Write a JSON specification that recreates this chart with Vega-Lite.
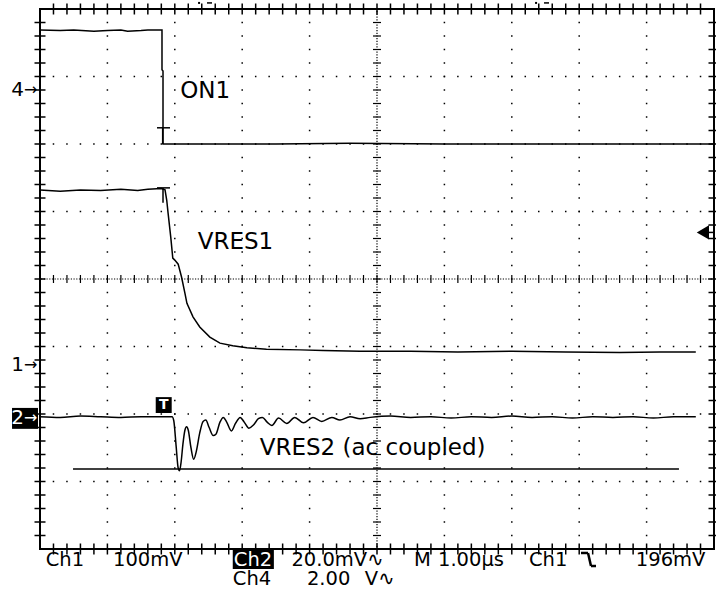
{
  "$schema": "https://vega.github.io/schema/vega-lite/v6.json",
  "width": 674,
  "height": 540,
  "autosize": {"type": "none"},
  "padding": {"left": 40, "top": 9, "right": 2, "bottom": 43},
  "background": "white",
  "config": {"view": {"stroke": "black", "strokeWidth": 2}, "text": {"font": "DejaVu Sans"}, "axis": {"disable": true}},
  "datasets": {
    "traces": [
      {"s": "ON1", "x": 0, "y": 7.69}, {"s": "ON1", "x": 0.3, "y": 7.68}, {"s": "ON1", "x": 0.5, "y": 7.69}, {"s": "ON1", "x": 0.8, "y": 7.67}, {"s": "ON1", "x": 1.0, "y": 7.68}, {"s": "ON1", "x": 1.2, "y": 7.69}, {"s": "ON1", "x": 1.3, "y": 7.67}, {"s": "ON1", "x": 1.5, "y": 7.68}, {"s": "ON1", "x": 1.6, "y": 7.69}, {"s": "ON1", "x": 1.81, "y": 7.69}, {"s": "ON1", "x": 1.81, "y": 7.1}, {"s": "ON1", "x": 1.825, "y": 7.08}, {"s": "ON1", "x": 1.825, "y": 6.0}, {"s": "ON1", "x": 1.87, "y": 6.0}, {"s": "ON1", "x": 2.4, "y": 6.0}, {"s": "ON1", "x": 3.5, "y": 6.0}, {"s": "ON1", "x": 4.6, "y": 6.01}, {"s": "ON1", "x": 6.0, "y": 6.0}, {"s": "ON1", "x": 7.5, "y": 6.0}, {"s": "ON1", "x": 10, "y": 6.0},
      {"s": "VRES1", "x": 0, "y": 5.32}, {"s": "VRES1", "x": 0.3, "y": 5.3}, {"s": "VRES1", "x": 0.6, "y": 5.32}, {"s": "VRES1", "x": 0.9, "y": 5.31}, {"s": "VRES1", "x": 1.2, "y": 5.33}, {"s": "VRES1", "x": 1.45, "y": 5.31}, {"s": "VRES1", "x": 1.6, "y": 5.33}, {"s": "VRES1", "x": 1.8, "y": 5.34}, {"s": "VRES1", "x": 1.855, "y": 5.32}, {"s": "VRES1", "x": 1.88, "y": 5.17}, {"s": "VRES1", "x": 1.9, "y": 4.98}, {"s": "VRES1", "x": 1.94, "y": 4.62}, {"s": "VRES1", "x": 1.97, "y": 4.31}, {"s": "VRES1", "x": 2.0, "y": 4.28}, {"s": "VRES1", "x": 2.05, "y": 4.22}, {"s": "VRES1", "x": 2.1, "y": 4.03}, {"s": "VRES1", "x": 2.15, "y": 3.79}, {"s": "VRES1", "x": 2.18, "y": 3.64}, {"s": "VRES1", "x": 2.27, "y": 3.44}, {"s": "VRES1", "x": 2.37, "y": 3.29}, {"s": "VRES1", "x": 2.52, "y": 3.14}, {"s": "VRES1", "x": 2.67, "y": 3.05}, {"s": "VRES1", "x": 2.86, "y": 3.01}, {"s": "VRES1", "x": 3.07, "y": 2.98}, {"s": "VRES1", "x": 3.36, "y": 2.96}, {"s": "VRES1", "x": 3.86, "y": 2.95}, {"s": "VRES1", "x": 4.2, "y": 2.94}, {"s": "VRES1", "x": 4.75, "y": 2.93}, {"s": "VRES1", "x": 5.5, "y": 2.93}, {"s": "VRES1", "x": 6.2, "y": 2.92}, {"s": "VRES1", "x": 7.0, "y": 2.93}, {"s": "VRES1", "x": 7.8, "y": 2.92}, {"s": "VRES1", "x": 8.6, "y": 2.91}, {"s": "VRES1", "x": 9.2, "y": 2.92}, {"s": "VRES1", "x": 9.73, "y": 2.92}
    ],
    "ring": [
      {"x": 0, "y": 1.96}, {"x": 0.3, "y": 1.95}, {"x": 0.6, "y": 1.97}, {"x": 0.9, "y": 1.96}, {"x": 1.2, "y": 1.95}, {"x": 1.5, "y": 1.96}, {"x": 1.8, "y": 1.96}, {"x": 1.96, "y": 1.96}, {"x": 1.985, "y": 1.9}, {"x": 2.02, "y": 1.52}, {"x": 2.05, "y": 1.2}, {"x": 2.07, "y": 1.16}, {"x": 2.095, "y": 1.3}, {"x": 2.12, "y": 1.55}, {"x": 2.15, "y": 1.76}, {"x": 2.175, "y": 1.81}, {"x": 2.2, "y": 1.76}, {"x": 2.24, "y": 1.5}, {"x": 2.28, "y": 1.33}, {"x": 2.32, "y": 1.45}, {"x": 2.37, "y": 1.72}, {"x": 2.42, "y": 1.89}, {"x": 2.46, "y": 1.91}, {"x": 2.51, "y": 1.8}, {"x": 2.57, "y": 1.68}, {"x": 2.61, "y": 1.7}, {"x": 2.67, "y": 1.88}, {"x": 2.72, "y": 1.95}, {"x": 2.77, "y": 1.88}, {"x": 2.84, "y": 1.75}, {"x": 2.9, "y": 1.86}, {"x": 2.97, "y": 1.95}, {"x": 3.03, "y": 1.88}, {"x": 3.1, "y": 1.79}, {"x": 3.17, "y": 1.84}, {"x": 3.24, "y": 1.93}, {"x": 3.3, "y": 1.95}, {"x": 3.37, "y": 1.88}, {"x": 3.44, "y": 1.83}, {"x": 3.54, "y": 1.94}, {"x": 3.66, "y": 1.86}, {"x": 3.78, "y": 1.95}, {"x": 3.91, "y": 1.87}, {"x": 4.05, "y": 1.95}, {"x": 4.18, "y": 1.89}, {"x": 4.33, "y": 1.95}, {"x": 4.45, "y": 1.91}, {"x": 4.6, "y": 1.96}, {"x": 4.75, "y": 1.93}, {"x": 4.9, "y": 1.95}, {"x": 5.2, "y": 1.97}, {"x": 5.5, "y": 1.95}, {"x": 5.8, "y": 1.96}, {"x": 6.1, "y": 1.94}, {"x": 6.4, "y": 1.96}, {"x": 6.7, "y": 1.95}, {"x": 7.0, "y": 1.97}, {"x": 7.3, "y": 1.95}, {"x": 7.6, "y": 1.96}, {"x": 7.9, "y": 1.94}, {"x": 8.2, "y": 1.96}, {"x": 8.5, "y": 1.95}, {"x": 8.8, "y": 1.96}, {"x": 9.1, "y": 1.94}, {"x": 9.4, "y": 1.96}, {"x": 9.73, "y": 1.96}
    ],
    "gx": [{"g": 1}, {"g": 2}, {"g": 3}, {"g": 4}, {"g": 6}, {"g": 7}, {"g": 8}, {"g": 9}],
    "gy": [{"g": 1}, {"g": 2}, {"g": 3}, {"g": 5}, {"g": 6}, {"g": 7}],
    "bt": [
      {"p":0.2},{"p":0.4},{"p":0.6},{"p":0.8},{"p":1},{"p":1.2},{"p":1.4},{"p":1.6},{"p":1.8},{"p":2},{"p":2.2},{"p":2.4},{"p":2.6},{"p":2.8},{"p":3},{"p":3.2},{"p":3.4},{"p":3.6},{"p":3.8},{"p":4},{"p":4.2},{"p":4.4},{"p":4.6},{"p":4.8},{"p":5},{"p":5.2},{"p":5.4},{"p":5.6},{"p":5.8},{"p":6},{"p":6.2},{"p":6.4},{"p":6.6},{"p":6.8},{"p":7},{"p":7.2},{"p":7.4},{"p":7.6},{"p":7.8},{"p":8},{"p":8.2},{"p":8.4},{"p":8.6},{"p":8.8},{"p":9},{"p":9.2},{"p":9.4},{"p":9.6},{"p":9.8}
    ],
    "lt": [
      {"p":0.2},{"p":0.4},{"p":0.6},{"p":0.8},{"p":1},{"p":1.2},{"p":1.4},{"p":1.6},{"p":1.8},{"p":2},{"p":2.2},{"p":2.4},{"p":2.6},{"p":2.8},{"p":3},{"p":3.2},{"p":3.4},{"p":3.6},{"p":3.8},{"p":4},{"p":4.2},{"p":4.4},{"p":4.6},{"p":4.8},{"p":5},{"p":5.2},{"p":5.4},{"p":5.6},{"p":5.8},{"p":6},{"p":6.2},{"p":6.4},{"p":6.6},{"p":6.8},{"p":7},{"p":7.2},{"p":7.4},{"p":7.6},{"p":7.8}
    ],
    "rules": [
      {"x": 1.736, "x2": 1.929, "y": 6.24, "y2": 6.24},
      {"x": 1.82, "x2": 1.82, "y": 6.24, "y2": 6.0},
      {"x": 1.736, "x2": 1.929, "y": 5.35, "y2": 5.35},
      {"x": 1.825, "x2": 1.825, "y": 5.35, "y2": 5.13},
      {"x": 0.49, "x2": 9.48, "y": 1.185, "y2": 1.185},
      {"x": 9.88, "x2": 10, "y": 4.69, "y2": 4.69},
      {"x": 2.478, "x2": 2.552, "y": 8.09, "y2": 8.09},
      {"x": 7.478, "x2": 7.552, "y": 8.09, "y2": 8.09}
    ],
    "edge": [
      {"x": 8.027, "x2": 8.131, "y": -0.059, "y2": -0.059},
      {"x": 8.131, "x2": 8.175, "y": -0.059, "y2": -0.252},
      {"x": 8.175, "x2": 8.249, "y": -0.252, "y2": -0.252}
    ],
    "boxes": [
      {"x": 2.86, "x2": 3.47, "y": -0.015, "y2": -0.296},
      {"x": -0.415, "x2": -0.03, "y": 2.09, "y2": 1.78},
      {"x": 1.717, "x2": 1.954, "y": 2.25, "y2": 2.015}
    ]
  },
  "encoding": {
    "x": {"type": "quantitative", "scale": {"domain": [0, 10], "nice": false, "zero": false}, "axis": null},
    "y": {"type": "quantitative", "scale": {"domain": [0, 8], "nice": false, "zero": false}, "axis": null}
  },
  "layer": [
    {"data": {"name": "gx"}, "mark": {"type": "rule", "color": "black", "strokeWidth": 1.5, "strokeDash": [1.5, 12], "strokeDashOffset": 0.75}, "encoding": {"x": {"field": "g", "type": "quantitative"}}},
    {"data": {"name": "gy"}, "mark": {"type": "rule", "color": "black", "strokeWidth": 1.5, "strokeDash": [1.5, 11.98], "strokeDashOffset": 0.75}, "encoding": {"y": {"field": "g", "type": "quantitative"}}},
    {"data": {"values": [{"g": 5}]}, "mark": {"type": "rule", "color": "black", "strokeWidth": 1.2, "strokeDash": [1.2, 1.5], "strokeDashOffset": 0.6}, "encoding": {"x": {"field": "g", "type": "quantitative"}}},
    {"data": {"values": [{"g": 4}]}, "mark": {"type": "rule", "color": "black", "strokeWidth": 1.2, "strokeDash": [1.2, 1.5], "strokeDashOffset": 0.6}, "encoding": {"y": {"field": "g", "type": "quantitative"}}},
    {"data": {"name": "bt"}, "mark": {"type": "tick", "orient": "vertical", "color": "black", "size": 11, "thickness": 1.5, "opacity": 1}, "encoding": {"x": {"field": "p", "type": "quantitative"}, "y": {"datum": 8}}},
    {"data": {"name": "bt"}, "mark": {"type": "tick", "orient": "vertical", "color": "black", "size": 11, "thickness": 1.5, "opacity": 1}, "encoding": {"x": {"field": "p", "type": "quantitative"}, "y": {"datum": 0}}},
    {"data": {"name": "bt"}, "mark": {"type": "tick", "orient": "vertical", "color": "black", "size": 8, "thickness": 1.2, "opacity": 1}, "encoding": {"x": {"field": "p", "type": "quantitative"}, "y": {"datum": 4}}},
    {"data": {"name": "lt"}, "mark": {"type": "tick", "orient": "horizontal", "color": "black", "size": 11, "thickness": 1.5, "opacity": 1}, "encoding": {"y": {"field": "p", "type": "quantitative"}, "x": {"datum": 0}}},
    {"data": {"name": "lt"}, "mark": {"type": "tick", "orient": "horizontal", "color": "black", "size": 11, "thickness": 1.5, "opacity": 1}, "encoding": {"y": {"field": "p", "type": "quantitative"}, "x": {"datum": 10}}},
    {"data": {"name": "lt"}, "mark": {"type": "tick", "orient": "horizontal", "color": "black", "size": 8, "thickness": 1.2, "opacity": 1}, "encoding": {"y": {"field": "p", "type": "quantitative"}, "x": {"datum": 5}}},
    {"mark": {"type": "rect", "color": "white", "opacity": 1}, "encoding": {"x": {"datum": -0.1}, "x2": {"datum": 10.1}, "y": {"datum": 8}, "y2": {"datum": 8.2}}},
    {"mark": {"type": "rect", "color": "white", "opacity": 1}, "encoding": {"x": {"datum": -0.1}, "x2": {"datum": 10.1}, "y": {"datum": 0}, "y2": {"datum": -0.09}}},
    {"mark": {"type": "rect", "color": "white", "opacity": 1}, "encoding": {"x": {"datum": -0.09}, "x2": {"datum": 0}, "y": {"datum": 0}, "y2": {"datum": 8}}},
    {"mark": {"type": "rect", "color": "white", "opacity": 1}, "encoding": {"x": {"datum": 10}, "x2": {"datum": 10.1}, "y": {"datum": 0}, "y2": {"datum": 8}}},
    {
      "data": {"name": "traces"},
      "mark": {"type": "line", "color": "black", "strokeWidth": 1.5},
      "encoding": {"x": {"field": "x", "type": "quantitative"}, "y": {"field": "y", "type": "quantitative"}, "detail": {"field": "s"}, "order": {"value": null}}
    },
    {
      "data": {"name": "ring"},
      "mark": {"type": "line", "color": "black", "strokeWidth": 1.5, "interpolate": "monotone"},
      "encoding": {"x": {"field": "x", "type": "quantitative"}, "y": {"field": "y", "type": "quantitative"}}
    },
    {"data": {"name": "rules"}, "mark": {"type": "rule", "color": "black", "strokeWidth": 1.5}, "encoding": {"x": {"field": "x", "type": "quantitative"}, "x2": {"field": "x2"}, "y": {"field": "y", "type": "quantitative"}, "y2": {"field": "y2"}}},
    {"data": {"name": "edge"}, "mark": {"type": "rule", "color": "black", "strokeWidth": 2.5}, "encoding": {"x": {"field": "x", "type": "quantitative"}, "x2": {"field": "x2"}, "y": {"field": "y", "type": "quantitative"}, "y2": {"field": "y2"}}},
    {"data": {"name": "boxes"}, "mark": {"type": "rect", "color": "black"}, "encoding": {"x": {"field": "x", "type": "quantitative"}, "x2": {"field": "x2"}, "y": {"field": "y", "type": "quantitative"}, "y2": {"field": "y2"}}},
    {"data": {"values": [{"x": 9.835, "y": 4.69}]}, "mark": {"type": "point", "shape": "triangle-left", "filled": true, "color": "black", "size": 200, "opacity": 1}, "encoding": {"x": {"field": "x", "type": "quantitative"}, "y": {"field": "y", "type": "quantitative"}}},
    {"data": {"values": [{"x": 2.36, "y": 8.09}, {"x": 7.36, "y": 8.09}]}, "mark": {"type": "square", "filled": true, "color": "black", "size": 4, "opacity": 1}, "encoding": {"x": {"field": "x", "type": "quantitative"}, "y": {"field": "y", "type": "quantitative"}}},
    {"data": {"values": [{"x": 2.08, "y": 6.79, "t": "ON1"}, {"x": 2.34, "y": 4.55, "t": "VRES1"}, {"x": 3.26, "y": 1.5, "t": "VRES2 (ac coupled)"}]}, "mark": {"type": "text", "fontSize": 23, "align": "left", "baseline": "middle", "color": "black"}, "encoding": {"x": {"field": "x", "type": "quantitative"}, "y": {"field": "y", "type": "quantitative"}, "text": {"field": "t"}}},
    {"data": {"values": [{"x": 0.085, "y": -0.252, "t": "Ch1"}, {"x": 1.083, "y": -0.252, "t": "100mV"}, {"x": 3.73, "y": -0.252, "t": "20.0mV∿"}, {"x": 5.55, "y": -0.252, "t": "M"}, {"x": 5.905, "y": -0.252, "t": "1.00µs"}, {"x": 7.255, "y": -0.252, "t": "Ch1"}, {"x": 8.84, "y": -0.252, "t": "196mV"}, {"x": 2.86, "y": -0.54, "t": "Ch4"}, {"x": 3.96, "y": -0.54, "t": "2.00"}, {"x": 4.82, "y": -0.54, "t": "V∿"}]}, "mark": {"type": "text", "fontSize": 19.5, "align": "left", "baseline": "alphabetic", "color": "black"}, "encoding": {"x": {"field": "x", "type": "quantitative"}, "y": {"field": "y", "type": "quantitative"}, "text": {"field": "t"}}},
    {"data": {"values": [{"x": 2.875, "y": -0.252, "t": "Ch2"}]}, "mark": {"type": "text", "fontSize": 19.5, "align": "left", "baseline": "alphabetic", "color": "white"}, "encoding": {"x": {"field": "x", "type": "quantitative"}, "y": {"field": "y", "type": "quantitative"}, "text": {"field": "t"}}},
    {"data": {"values": [{"x": -0.237, "y": 6.8, "t": "4"}, {"x": -0.237, "y": 2.726, "t": "1"}]}, "mark": {"type": "text", "fontSize": 20, "align": "right", "baseline": "middle", "color": "black"}, "encoding": {"x": {"field": "x", "type": "quantitative"}, "y": {"field": "y", "type": "quantitative"}, "text": {"field": "t"}}},
    {"data": {"values": [{"x": -0.237, "y": 1.94, "t": "2"}]}, "mark": {"type": "text", "fontSize": 20, "align": "right", "baseline": "middle", "color": "white"}, "encoding": {"x": {"field": "x", "type": "quantitative"}, "y": {"field": "y", "type": "quantitative"}, "text": {"field": "t"}}},
    {"data": {"values": [{"x": -0.237, "y": 6.8, "t": "→"}, {"x": -0.237, "y": 2.726, "t": "→"}]}, "mark": {"type": "text", "fontSize": 16, "align": "left", "baseline": "middle", "color": "black"}, "encoding": {"x": {"field": "x", "type": "quantitative"}, "y": {"field": "y", "type": "quantitative"}, "text": {"field": "t"}}},
    {"data": {"values": [{"x": -0.237, "y": 1.94, "t": "→"}]}, "mark": {"type": "text", "fontSize": 16, "align": "left", "baseline": "middle", "color": "white"}, "encoding": {"x": {"field": "x", "type": "quantitative"}, "y": {"field": "y", "type": "quantitative"}, "text": {"field": "t"}}},
    {"data": {"values": [{"x": 1.835, "y": 2.13, "t": "T"}]}, "mark": {"type": "text", "fontSize": 14, "fontWeight": "bold", "align": "center", "baseline": "middle", "color": "white"}, "encoding": {"x": {"field": "x", "type": "quantitative"}, "y": {"field": "y", "type": "quantitative"}, "text": {"field": "t"}}}
  ]
}
